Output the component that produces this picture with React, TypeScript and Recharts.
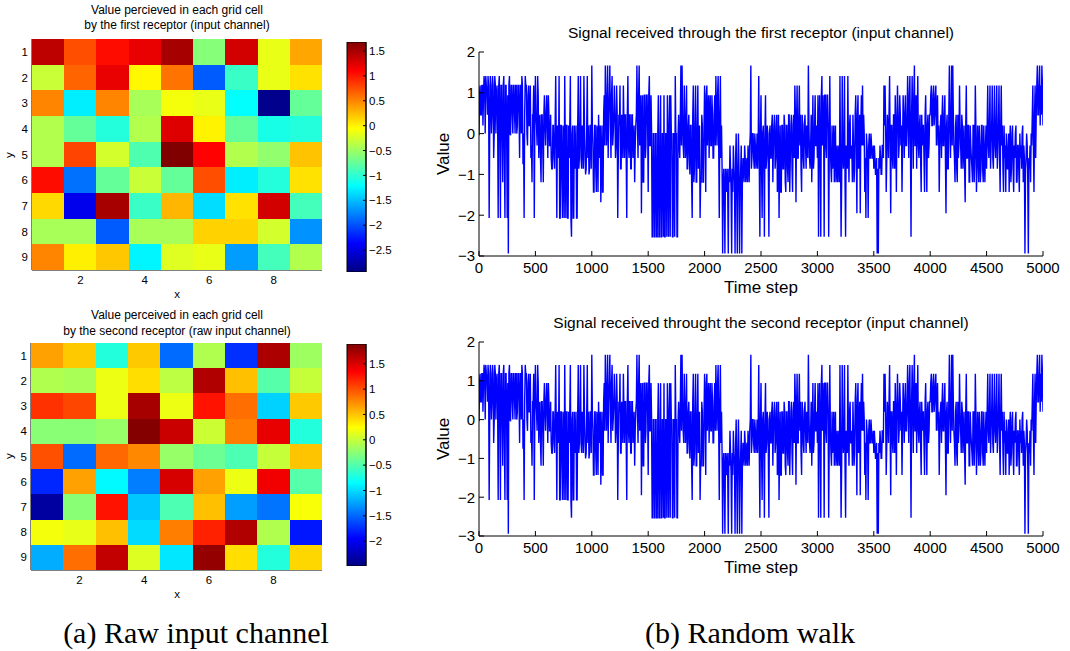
import React from 'react';
import { ScatterChart, Scatter, XAxis, YAxis, LineChart, Line, BarChart, Bar } from 'recharts';

const SANS = '"Liberation Sans", Arial, Helvetica, sans-serif';
const SERIF = '"Liberation Serif", "Times New Roman", serif';

// ---------- grid data (value per cell, rows y=1..9, columns x=1..9) ----------
const receptor1Rows: number[][] = [
  [1.4, 0.75, 1.05, 1.2, 1.5, -0.6, 1.3, -0.15, 0.35],
  [-0.3, 0.65, 1.2, -0.02, 0.58, -1.95, -0.95, -0.15, 0.08],
  [0.5, -1.28, 0.5, -0.45, -0.1, -0.15, -1.2, -2.88, -0.75],
  [-0.4, -0.75, -1.05, -0.4, 1.25, 0.0, -0.75, -1.1, -1.05],
  [-0.4, 0.8, -0.25, -0.85, 1.68, 1.1, -0.4, -0.55, 0.22],
  [1.05, -1.85, -0.75, -0.3, -0.75, 0.75, -1.28, -1.05, 0.08],
  [0.12, -2.45, 1.5, -0.95, 0.28, -1.36, 0.08, 1.3, -0.9],
  [-0.45, -0.45, -1.95, -0.45, -0.45, 0.15, 0.15, -0.25, -1.7],
  [0.5, 0.02, 0.2, -1.25, -0.2, -0.15, -1.65, -0.9, -0.4],
];
const receptor2Rows: number[][] = [
  [0.65, 0.48, -0.7, 0.48, -1.48, -0.09, -1.74, 1.7, -0.17],
  [-0.09, -0.12, 0.17, 0.39, -0.04, 1.68, 0.52, -0.48, 0.0],
  [1.13, 1.04, 0.17, 1.72, 0.17, 1.26, 0.87, -1.04, 0.48],
  [-0.26, -0.26, -0.2, 1.87, 1.57, 0.03, 0.8, 1.44, -0.7],
  [1.0, -1.48, 0.9, 0.76, -0.2, -0.39, -0.52, 0.0, 0.5],
  [-1.78, 0.65, -0.87, -1.4, 1.52, 0.65, 0.17, 1.4, -0.48],
  [-2.35, -0.26, 1.26, -1.09, -0.52, 0.52, -1.26, -1.45, 0.22],
  [0.2, 0.15, 0.52, -1.0, 0.8, 1.2, 1.68, -0.09, -1.85],
  [-1.2, 0.87, 1.6, 0.1, -0.95, 1.8, 0.39, -0.7, 0.42],
];
const colorbar1Range = [-2.94, 1.68];
const colorbar2Range = [-2.49, 1.89];
const colorbar1Ticks = [1.5, 1, 0.5, 0, -0.5, -1, -1.5, -2, -2.5];
const colorbar2Ticks = [1.5, 1, 0.5, 0, -0.5, -1, -1.5, -2];
const gridXTicks = [2, 4, 6, 8];
const gridYTicks = [1, 2, 3, 4, 5, 6, 7, 8, 9];

// ---------- random walk signal: values read at steps 0,10,20,... ----------
const signal0to1000 = [
  -0.04, 1.18, 0.46, 1.18, 0.94, 1.18, 1.41, 1.0, 1.41, -2.07,
  1.41, 0.0, 1.41, -0.6, 1.41, 0.0, 1.18, -2.07, 1.41, -2.07,
  1.18, -1.19, 1.41, -2.07, 1.18, -2.07, -2.94, 1.41, -0.04, 1.18,
  0.0, 1.18, 0.0, 1.18, 0.2, 1.18, -0.6, 1.18, 1.41, -0.75,
  -2.07, 1.41, 1.18, -0.29, 1.18, 0.2, -0.6, -1.19, 0.46, -2.07,
  1.41, 0.2, 1.41, -0.6, 0.46, -1.19, 0.46, -1.19, 0.94, -0.29,
  0.94, -0.6, 0.46, -0.29, -0.6, -0.86, 0.2, -0.86, 1.41, -2.07,
  0.0, 1.41, -2.07, 0.2, -2.07, -0.6, 1.41, -2.07, 0.2, -2.07,
  -0.6, 1.41, -2.53, 0.2, -2.07, -0.86, 0.2, -2.07, 1.41, -0.6,
  1.41, -0.86, 0.0, 1.41, -0.6, -0.86, 1.41, 0.2, -0.86, 0.2,
];
const signal1000to2000 = [
  1.67, -0.29, -1.43, 0.2, -1.43, 0.0, 0.46, -0.6, -1.68, 0.2,
  -1.43, 0.94, 1.67, -0.29, 1.67, 0.46, 1.67, -0.6, 1.41, 0.0,
  1.18, -0.6, 1.18, -2.07, 0.46, 1.18, -0.86, 0.2, 1.18, -0.6,
  0.46, -2.07, 1.41, -0.6, 0.46, -0.86, 0.46, -0.29, -1.19, 0.2,
  1.67, -0.6, 1.67, 0.46, -1.95, 0.94, -1.19, 0.94, -0.29, 0.94,
  -1.43, 1.41, -0.29, 0.0, -2.53, 0.0, -2.53, 0.0, -2.53, 0.94,
  -2.53, 0.94, -2.53, 0.0, 0.94, -2.53, 0.0, 0.94, -2.53, 0.94,
  0.94, 0.0, -2.53, 0.0, 1.41, 0.0, -2.53, 0.46, -0.6, 1.67,
  1.67, -0.29, 1.18, -0.6, 1.18, -0.86, 0.46, -1.0, 0.2, -2.07,
  1.18, -0.86, 1.18, -1.19, 1.18, -0.6, -2.07, -1.19, 0.2, -1.19,
];
const signal2000to3000 = [
  1.18, -1.43, 1.18, 0.46, -0.6, 0.94, -0.29, 0.46, -0.6, 0.94,
  1.41, -0.29, 1.41, -2.07, 1.41, 0.2, -2.94, -0.86, -2.94, -1.19,
  -0.86, -2.94, -1.19, -0.86, -2.94, -1.43, -0.86, -2.94, 0.0, -2.94,
  0.0, -2.94, -0.86, -2.94, -0.6, -1.19, -0.6, -0.86, -1.19, -0.6,
  -0.29, 1.67, -0.6, 0.0, -0.86, -0.29, -0.6, -0.86, 1.41, -2.53,
  0.94, -2.07, 0.2, -2.53, 0.94, -0.6, 0.0, -2.53, 0.2, -0.6,
  0.46, -0.29, 0.46, -0.6, 0.46, -1.19, -2.07, 0.2, -1.43, 0.2,
  -0.86, 0.2, -1.43, 0.2, -1.19, 0.46, -0.6, 0.46, -1.43, 0.46,
  1.18, -1.68, 1.18, -0.6, 1.18, 0.46, -1.43, 0.2, -0.86, 0.46,
  -0.86, -0.29, 1.67, -0.6, -0.29, -1.19, 0.94, -0.6, 0.94, -0.29,
];
const signal3000to4000 = [
  -0.6, -2.53, 0.94, -2.53, 1.41, 0.94, -2.53, 0.94, -0.6, 0.94,
  -2.53, 1.41, -0.86, 0.2, -0.6, -1.19, 0.2, -0.86, -1.19, -0.29,
  1.41, -2.53, 1.41, -0.86, 1.41, -2.53, -0.6, 1.41, -1.19, 0.46,
  -0.6, -1.19, -0.29, -0.86, 0.94, -1.95, 0.94, -0.6, -1.95, 0.94,
  1.18, 0.46, -1.43, -2.07, -0.29, -2.07, 0.0, -0.6, -0.29, -0.6,
  -0.86, -0.6, -1.0, -2.94, -2.94, -0.86, -0.6, -1.0, -0.29, 1.18,
  1.18, -1.43, 0.46, -0.6, 1.41, -1.95, 0.2, -0.86, 0.46, 0.94,
  -1.43, 1.18, -0.6, 0.94, -0.29, -1.43, 0.94, -0.6, 0.94, -0.29,
  1.41, -0.6, 1.41, -2.53, 1.41, -0.86, 1.67, -0.29, -0.86, 1.41,
  -0.6, 0.46, -1.43, -0.29, 0.2, -1.43, 0.94, -1.43, 0.46, -0.29,
];
const signal4000to5000 = [
  0.46, 1.18, 0.2, 1.18, 0.46, 1.18, 0.46, -0.29, -1.43, 0.2,
  -0.6, 0.94, -0.29, 0.94, -1.95, 0.46, -0.86, 1.67, -0.6, 1.67,
  1.67, -0.29, -1.19, 0.46, -1.19, -0.6, 1.18, -0.29, 0.46, -0.86,
  0.2, -1.68, 1.18, -0.6, 0.2, -1.19, -0.29, -0.86, 0.2, -1.19,
  1.18, -1.43, 0.2, -1.19, -0.29, -0.86, 0.2, -1.19, -0.6, -0.29,
  -0.86, 1.18, -0.6, 1.18, -0.29, 1.18, -0.86, 1.18, -0.6, 1.18,
  -0.29, 1.18, -1.43, 1.18, 0.2, -1.43, -0.6, -1.43, -0.29, -0.86,
  -1.43, 0.2, -0.86, 0.2, -1.43, -0.6, 0.2, -1.19, -0.29, -1.43,
  -0.6, -0.86, 0.2, -0.29, -2.94, -0.6, -0.29, -2.94, -0.86, -1.19,
  -0.29, 1.18, -1.43, 1.18, 0.46, 1.67, 0.46, 1.67, 1.18, 1.67,
  0.2,
];
// ---------- values read at the in-between steps 5,15,25,... ----------
const between0to1000 = [
  1.0, 0.46, 1.18, 0.2, 1.41, 0.0, 1.18, 0.46, 1.18, 0.0,
  1.18, 0.46, 1.18, 0.0, 1.18, 0.94, 0.46, 1.18, 0.0, 1.18,
  0.0, 1.18, -0.6, 1.18, 0.0, 0.94, 1.18, 0.0, 1.18, 0.46,
  1.18, 0.46, 1.18, 0.0, 1.18, 0.46, 1.18, 0.0, 1.18, 0.0,
  0.46, 1.18, 0.0, 0.94, 0.2, 1.18, -0.29, 0.46, 1.18, 0.2,
  0.46, -0.29, 0.94, 0.2, -0.6, 0.46, -0.29, 0.46, 0.2, 0.46,
  0.2, 0.94, -0.29, 0.46, -0.86, 0.2, -0.6, 0.2, -0.29, 0.2,
  -0.6, -2.07, 0.2, -1.19, 0.2, -2.07, -0.29, 0.2, -2.07, 0.2,
  0.2, -2.07, 0.0, -2.07, 0.2, -0.6, -2.07, 0.2, -0.86, 0.2,
  -0.6, 0.2, -0.86, 0.2, -1.0, 0.2, -0.6, -1.0, 0.2, -0.86,
];
const between1000to2000 = [
  0.2, -1.43, 0.2, -0.86, 0.2, -1.43, -0.29, 0.2, -0.6, -1.43,
  0.46, -0.29, 0.94, 0.2, -0.6, 0.94, 0.2, 0.94, -0.29, 0.46,
  0.46, -0.29, 0.46, -0.6, 0.2, -0.86, 0.46, -0.6, 0.2, 0.46,
  -0.6, 0.46, -0.29, 0.46, -0.86, 0.46, -0.6, 0.2, -0.29, 0.46,
  0.2, 0.94, -0.29, 0.94, 0.2, -1.19, 0.94, -0.6, 0.94, 0.2,
  0.94, -0.29, 0.94, -2.53, 0.0, -2.53, 0.0, -2.53, 0.0, -2.53,
  0.0, -2.53, 0.0, -2.53, -2.53, 0.0, -2.53, 0.0, 0.0, -2.53,
  0.0, -2.53, 0.0, -2.53, 0.0, -2.53, 0.0, -0.29, 0.46, -0.29,
  0.46, -0.6, 0.46, -0.29, -0.86, 0.2, -0.6, 0.2, -1.19, 0.46,
  -1.19, 0.2, -1.19, 0.2, -0.86, 0.2, -1.19, 0.46, -1.19, 0.2,
];
const between2000to3000 = [
  0.2, 0.94, -0.29, 0.94, 0.46, -0.29, 0.94, -0.6, 0.46, -0.29,
  0.46, 0.94, -0.29, 0.46, -0.6, -0.86, -1.19, -1.43, -0.86, -1.43,
  -1.43, -0.86, -0.29, -1.43, -0.86, -0.29, -1.19, -0.6, -1.43, -0.86,
  -0.86, -1.43, -0.29, -1.19, -0.86, -0.29, -1.19, -0.6, -0.29, -1.19,
  0.0, -0.86, 0.0, -0.6, 0.0, -0.86, 0.0, -0.29, -0.86, 0.0,
  -0.86, 0.0, -0.6, 0.0, -0.86, 0.2, -0.86, 0.0, -0.6, 0.2,
  -1.19, 0.2, -0.86, 0.2, -1.43, 0.46, -0.6, -1.43, 0.2, -0.86,
  0.46, -1.19, 0.2, -0.86, 0.46, -1.43, 0.2, -0.86, 0.2, -0.6,
  0.46, 0.2, -0.6, 0.46, -0.29, -0.86, 0.46, -0.6, 0.2, -0.29,
  0.2, -0.6, 0.2, -0.86, 0.46, -0.29, -0.86, 0.2, -0.29, 0.2,
];
const between3000to4000 = [
  0.94, 0.2, -0.6, 0.94, -0.29, 0.46, 0.94, -0.29, 0.94, 0.2,
  -0.6, -0.29, -1.19, -0.86, 0.2, -0.29, -1.19, -0.29, -0.6, -1.19,
  -0.6, -1.19, -0.29, -0.6, -1.19, -0.29, -0.86, -0.29, 0.2, -0.6,
  -0.29, 0.46, -1.19, 0.46, -0.29, 0.46, -0.86, 0.46, 0.2, -0.29,
  -0.29, 0.0, -0.6, 0.0, -0.6, -0.29, -0.6, 0.0, -0.6, -0.29,
  -0.29, -1.0, -0.6, -0.86, -0.6, -0.29, -1.0, -0.29, -0.6, 0.2,
  0.2, -0.6, 0.2, 0.46, -0.29, 0.2, -0.6, 0.46, -0.86, 0.2,
  0.2, 0.46, -0.29, 0.46, 0.2, -0.29, 0.46, 0.2, -0.29, 0.46,
  0.2, 0.94, -0.29, 0.46, 0.2, 0.94, -0.29, 0.94, 0.46, -0.29,
  0.2, -0.6, 0.46, 0.2, -0.6, 0.46, -0.29, 0.2, -0.6, 0.46,
];
const between4000to5000 = [
  0.94, 0.2, 0.94, 0.2, 0.94, -0.29, 0.94, 0.2, -0.29, 0.46,
  0.46, -0.29, 0.46, -0.6, 0.2, -0.86, 0.46, 0.2, 0.46, -0.29,
  0.46, -0.6, 0.2, -0.86, 0.46, -0.29, 0.2, -0.86, 0.2, -0.29,
  -0.86, 0.2, -0.6, 0.2, -1.19, 0.2, -0.6, -1.19, 0.2, -0.6,
  0.2, -0.86, -0.29, 0.2, -1.19, 0.2, -0.86, 0.2, -1.19, 0.2,
  0.2, -0.29, 0.2, -0.86, 0.2, -0.6, 0.2, -0.29, 0.2, -0.86,
  0.2, -0.6, 0.2, -0.29, -0.86, 0.2, -0.29, 0.0, -0.86, 0.0,
  -0.29, -1.19, 0.0, -0.86, -0.29, 0.0, -1.19, -0.29, -0.86, 0.0,
  -0.29, 0.0, -1.19, -0.6, -0.86, 0.0, -1.19, -0.6, -0.29, 0.0,
  0.46, -0.29, 0.46, -0.6, 1.18, 0.46, 1.18, 0.2, 0.46, 1.18,
];
const timeTicks = [0, 500, 1000, 1500, 2000, 2500, 3000, 3500, 4000, 4500, 5000];
const valueTicks = [-3, -2, -1, 0, 1, 2];
const STEP = 10;

const firstReceptorSignal = [
  ...signal0to1000, ...signal1000to2000, ...signal2000to3000, ...signal3000to4000, ...signal4000to5000,
];
const firstReceptorBetween = [
  ...between0to1000, ...between1000to2000, ...between2000to3000, ...between3000to4000, ...between4000to5000,
];
// the second receptor trace in the figure is the same walk
const secondReceptorSignal = firstReceptorSignal;
const secondReceptorBetween = firstReceptorBetween;

// ---------- helpers ----------
const minus = (v: number) => String(v).replace('-', '\u2212');

function jet(v: number, min: number, max: number) {
  const t = Math.max(0, Math.min(1, (v - min) / (max - min)));
  const c = (k: number) => Math.round(255 * Math.max(0, Math.min(1, 1.5 - Math.abs(4 * t - k))));
  return `rgb(${c(3)},${c(2)},${c(1)})`;
}

const jetStops = [
  { o: 0, c: '#000080' },
  { o: 0.125, c: '#0000ff' },
  { o: 0.375, c: '#00ffff' },
  { o: 0.625, c: '#ffff00' },
  { o: 0.875, c: '#ff0000' },
  { o: 1, c: '#800000' },
];

const Txt = ({ x, y, size, children, rotate, family }: any) => (
  <div
    style={{
      position: 'absolute',
      left: x,
      top: y,
      transform: `translate(-50%, -50%)${rotate ? ' rotate(-90deg)' : ''}`,
      fontSize: size,
      fontFamily: family || SANS,
      whiteSpace: 'nowrap',
      color: '#000',
      lineHeight: 1,
    }}
  >
    {children}
  </div>
);

// ---------- heatmap ----------
function Heatmap({ rows, range, top, marginTop, yWidth }: any) {
  const W = 340;
  const H = 300;
  const right = 18;
  const xH = 30;
  const cw = (W - right - yWidth) / 9;
  const ch = (H - marginTop - xH) / 9;
  const data = rows.flatMap((row: number[], ri: number) => row.map((v, ci) => ({ x: ci + 1, y: ri + 1, v })));
  const tickStyle = { fontSize: 11.5, fill: '#000', fontFamily: SANS };
  return (
    <div style={{ position: 'absolute', left: 0, top }}>
      <ScatterChart width={W} height={H} margin={{ top: marginTop, right, bottom: 0, left: 0 }}>
        <Scatter
          data={data}
          isAnimationActive={false}
          shape={(p: any) => (
            <rect
              x={p.cx - cw / 2}
              y={p.cy - ch / 2}
              width={cw}
              height={ch}
              fill={jet(p.payload.v, range[0], range[1])}
              shapeRendering="crispEdges"
            />
          )}
        />
        <XAxis type="number" dataKey="x" domain={[0.5, 9.5]} ticks={gridXTicks} allowDataOverflow height={xH}
          tickSize={-4} tickMargin={10} interval={0} tick={tickStyle} stroke="#000" />
        <YAxis type="number" dataKey="y" domain={[0.5, 9.5]} reversed ticks={gridYTicks} allowDataOverflow width={yWidth}
          tickSize={-4} tickMargin={8} interval={0} tick={tickStyle} stroke="#000" />
        <XAxis xAxisId="top" orientation="top" type="number" domain={[0.5, 9.5]} ticks={gridXTicks} allowDataOverflow
          height={0} tickSize={-4} tickFormatter={() => ''} interval={0} stroke="#000" />
        <YAxis yAxisId="right" orientation="right" type="number" domain={[0.5, 9.5]} reversed ticks={gridYTicks}
          allowDataOverflow width={0} tickSize={-4} tickFormatter={() => ''} interval={0} stroke="#000" />
      </ScatterChart>
    </div>
  );
}

function Colorbar({ range, ticks, top, height, marginTop, marginBottom, gradId }: any) {
  return (
    <div style={{ position: 'absolute', left: 340, top }}>
      <BarChart width={60} height={height} data={[{ name: 'cb', span: range }]}
        margin={{ top: marginTop, right: 0, bottom: marginBottom, left: 7 }} barCategoryGap={0}>
        <XAxis dataKey="name" hide />
        <YAxis orientation="right" type="number" domain={range} ticks={ticks} allowDataOverflow width={34}
          tickSize={-3} tickMargin={6} interval={0} tickFormatter={minus}
          tick={{ fontSize: 11.5, fill: '#000', fontFamily: SANS }} stroke="#000" />
        <Bar dataKey="span" fill={`url(#${gradId})`} stroke="#000" strokeWidth={1} isAnimationActive={false} />
      </BarChart>
    </div>
  );
}

// ---------- line chart ----------
function SignalChart({ values, between, top, height }: any) {
  const data: { t: number; v: number }[] = [];
  values.forEach((v: number, i: number) => {
    data.push({ t: i * STEP, v });
    if (i < between.length) data.push({ t: i * STEP + STEP / 2, v: between[i] });
  });
  const tickStyle = { fontSize: 15, fill: '#000', fontFamily: SANS };
  return (
    <div style={{ position: 'absolute', left: 420, top }}>
      <LineChart width={640} height={height} data={data} margin={{ top: 17, right: 17, bottom: 0, left: 9 }}>
        <XAxis type="number" dataKey="t" domain={[0, 5000]} ticks={timeTicks} allowDataOverflow height={39}
          tickSize={-5} tickMargin={11} interval={0} tick={tickStyle} stroke="#000" />
        <YAxis type="number" domain={[-3, 2]} ticks={valueTicks} allowDataOverflow width={50}
          tickSize={-5} tickMargin={9} interval={0} tick={tickStyle} tickFormatter={minus} stroke="#000" />
        <XAxis xAxisId="top" orientation="top" type="number" domain={[0, 5000]} ticks={timeTicks} allowDataOverflow
          height={0} tickSize={-5} tickFormatter={() => ''} interval={0} stroke="#000" />
        <YAxis yAxisId="right" orientation="right" type="number" domain={[-3, 2]} ticks={valueTicks} allowDataOverflow
          width={0} tickSize={-5} tickFormatter={() => ''} interval={0} stroke="#000" />
        <Line dataKey="v" type="linear" stroke="#0000ff" strokeWidth={1.4} dot={false} isAnimationActive={false} />
      </LineChart>
    </div>
  );
}

export default function App() {
  return (
    <div style={{ position: 'absolute', left: 0, top: 0, width: 1070, height: 651, background: '#fff', overflow: 'hidden' }}>
      <svg width={0} height={0} style={{ position: 'absolute' }}>
        <defs>
          {['jetA', 'jetB'].map((id) => (
            <linearGradient key={id} id={id} x1="0" y1="1" x2="0" y2="0">
              {jetStops.map((s) => (
                <stop key={s.o} offset={s.o} stopColor={s.c} />
              ))}
            </linearGradient>
          ))}
        </defs>
      </svg>

      {/* left: grid heatmaps */}
      <Txt x={177} y={10} size={12}>Value percieved in each grid cell</Txt>
      <Txt x={177} y={25} size={12}>by the first receptor (input channel)</Txt>
      <Heatmap rows={receptor1Rows} range={colorbar1Range} top={0} marginTop={39} yWidth={32} />
      <Colorbar range={colorbar1Range} ticks={colorbar1Ticks} top={30} height={260} marginTop={12} marginBottom={18} gradId="jetA" />
      <Txt x={177} y={295} size={11.5}>x</Txt>
      <Txt x={10} y={155} size={11.5} rotate>y</Txt>

      <Txt x={177} y={315} size={12}>Value perceived in each grid cell</Txt>
      <Txt x={177} y={331} size={12}>by the second receptor (raw input channel)</Txt>
      <Heatmap rows={receptor2Rows} range={colorbar2Range} top={300} marginTop={43} yWidth={31} />
      <Colorbar range={colorbar2Range} ticks={colorbar2Ticks} top={330} height={250} marginTop={14} marginBottom={14} gradId="jetB" />
      <Txt x={177} y={595} size={11.5}>x</Txt>
      <Txt x={10} y={456} size={11.5} rotate>y</Txt>

      {/* right: random walk signals */}
      <Txt x={761} y={33} size={15.5}>Signal received through the first receptor (input channel)</Txt>
      <SignalChart values={firstReceptorSignal} between={firstReceptorBetween} top={35} height={260} />
      <Txt x={761} y={287} size={17}>Time step</Txt>
      <Txt x={443} y={154} size={17} rotate>Value</Txt>

      <Txt x={761} y={323} size={15.5}>Signal received throught the second receptor (input channel)</Txt>
      <SignalChart values={secondReceptorSignal} between={secondReceptorBetween} top={325} height={250} />
      <Txt x={761} y={567} size={17}>Time step</Txt>
      <Txt x={443} y={439} size={17} rotate>Value</Txt>

      {/* captions */}
      <Txt x={196} y={633} size={30} family={SERIF}>(a) Raw input channel</Txt>
      <Txt x={750} y={633} size={30} family={SERIF}>(b) Random walk</Txt>
    </div>
  );
}
